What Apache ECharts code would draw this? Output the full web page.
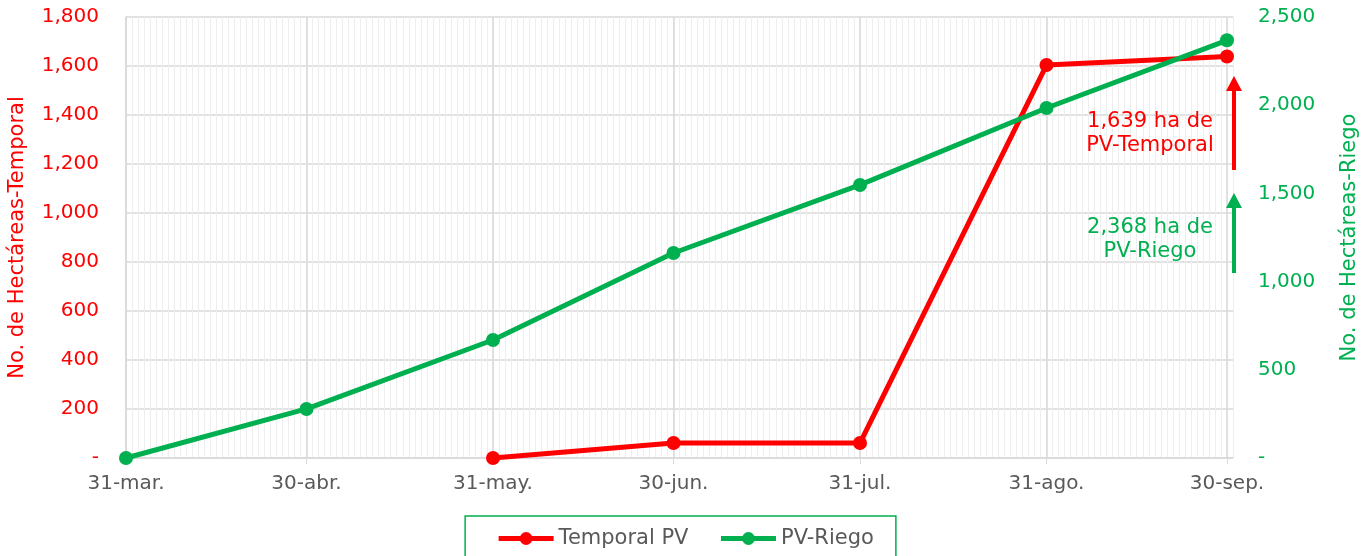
<!DOCTYPE html>
<html>
<head>
<meta charset="utf-8">
<script src="https://cdn.jsdelivr.net/npm/echarts@6/dist/echarts.min.js"></script>
<style>
  html, body { margin: 0; padding: 0; background: #fff; }
  #chart { width: 1370px; height: 556px; }
</style>
</head>
<body>
<div id="chart"></div>
<script>
// datos
const fechas = ["2024-03-31", "2024-04-30", "2024-05-31", "2024-06-30", "2024-07-31", "2024-08-31", "2024-09-30"];
const temporalPV = [null, null, 0, 61, 61, 1604, 1639];
const pvRiego = [0, 278, 669, 1162, 1548, 1984, 2368];
const meses = ["ene", "feb", "mar", "abr", "may", "jun", "jul", "ago", "sep", "oct", "nov", "dic"];
const fechaMin = "2024-03-31";
const fechaMax = "2024-10-01";

const ROJO = "#FF0000";
const VERDE = "#00B050";
const GRIS = "#595959";
const FONT = "DejaVu Sans";
const DIA = 86400000;

function aFecha(s) {
  const p = s.split("-").map(Number);
  return Date.UTC(p[0], p[1] - 1, p[2]);
}
// eje x en días desde la fecha inicial
const t0 = aFecha(fechaMin);
const dias = fechas.map(f => Math.round((aFecha(f) - t0) / DIA));
const diaMax = Math.round((aFecha(fechaMax) - t0) / DIA);

function etiquetaDia(v) {
  const d = new Date(t0 + v * DIA);
  return d.getUTCDate() + "-" + meses[d.getUTCMonth()] + ".";
}
function numFmt(v) {
  return v === 0 ? "-" : v.toLocaleString("en-US");
}

// flecha vertical como un solo polígono
function flecha(x, yBase, yPunta, color) {
  return {
    type: "polygon",
    z: 100,
    shape: {
      points: [
        [x - 2, yBase], [x - 2, yPunta + 15], [x - 8, yPunta + 15], [x, yPunta],
        [x + 8, yPunta + 15], [x + 2, yPunta + 15], [x + 2, yBase]
      ]
    },
    style: { fill: color, stroke: null, lineWidth: 0 }
  };
}

const chart = echarts.init(document.getElementById("chart"));
chart.setOption({
  animation: false,
  textStyle: { fontFamily: FONT },
  grid: { left: 126, right: 137, top: 17, bottom: 98, containLabel: false, outerBoundsMode: "none" },
  legend: {
    top: 516,
    left: "center",
    itemWidth: 55,
    itemHeight: 16,
    itemGap: 30,
    padding: [12, 22, 30, 31],
    borderColor: VERDE,
    borderWidth: 1.5,
    lineStyle: { width: 5 },
    textStyle: { color: GRIS, fontSize: 21, fontFamily: FONT },
    data: ["Temporal PV", "PV-Riego"]
  },
  xAxis: [
    {
      // eje auxiliar: líneas diarias
      type: "value",
      position: "bottom",
      min: 0,
      max: diaMax,
      interval: 1,
      axisLine: { show: false },
      axisTick: { show: false },
      axisLabel: { show: false },
      splitLine: { show: true, lineStyle: { color: "#EEEEEE", width: 1 } }
    },
    {
      type: "value",
      position: "bottom",
      min: 0,
      max: diaMax,
      axisLine: { show: true, lineStyle: { color: "#D9D9D9", width: 1.5 } },
      axisTick: { show: true, length: 6, lineStyle: { color: "#D9D9D9" }, customValues: dias },
      axisLabel: {
        customValues: dias,
        color: GRIS,
        fontSize: 20,
        margin: 16,
        formatter: etiquetaDia
      },
      splitLine: { show: true, lineStyle: { color: "#D9D9D9", width: 1.5 } }
    }
  ],
  yAxis: [
    {
      type: "value",
      min: 0,
      max: 1800,
      interval: 200,
      name: "No. de Hectáreas-Temporal",
      nameLocation: "middle",
      nameGap: 98,
      nameRotate: 90,
      nameTextStyle: { color: ROJO, fontSize: 21 },
      axisLine: { show: true, lineStyle: { color: "#D9D9D9", width: 1.5 } },
      axisTick: { show: false },
      axisLabel: { color: ROJO, fontSize: 20, margin: 27, formatter: numFmt },
      splitLine: { show: true, lineStyle: { color: "#D9D9D9", width: 1.5 } }
    },
    {
      type: "value",
      min: 0,
      max: 2500,
      interval: 500,
      position: "right",
      name: "No. de Hectáreas-Riego",
      nameLocation: "middle",
      nameGap: 106,
      nameRotate: 90,
      nameTextStyle: { color: VERDE, fontSize: 21 },
      axisLine: { show: false },
      axisTick: { show: false },
      axisLabel: { color: VERDE, fontSize: 20, margin: 25, formatter: numFmt },
      splitLine: { show: false }
    }
  ],
  series: [
    {
      name: "Temporal PV",
      type: "line",
      xAxisIndex: 1,
      yAxisIndex: 0,
      symbol: "circle",
      symbolSize: 14,
      color: ROJO,
      lineStyle: { width: 5, color: ROJO },
      data: dias.map((d, i) => [d, temporalPV[i]]),
      z: 3
    },
    {
      name: "PV-Riego",
      type: "line",
      xAxisIndex: 1,
      yAxisIndex: 1,
      symbol: "circle",
      symbolSize: 14,
      color: VERDE,
      lineStyle: { width: 5, color: VERDE },
      data: dias.map((d, i) => [d, pvRiego[i]]),
      z: 4
    }
  ],
  graphic: [
    {
      type: "text",
      x: 1150, y: 134,
      z: 100,
      style: {
        text: "1,639 ha de\nPV-Temporal",
        fill: ROJO, stroke: null, lineWidth: 0,
        fontSize: 21, fontFamily: FONT,
        align: "center", verticalAlign: "middle", lineHeight: 24
      }
    },
    {
      type: "text",
      x: 1150, y: 240,
      z: 100,
      style: {
        text: "2,368 ha de\nPV-Riego",
        fill: VERDE, stroke: null, lineWidth: 0,
        fontSize: 21, fontFamily: FONT,
        align: "center", verticalAlign: "middle", lineHeight: 24
      }
    },
    flecha(1234, 170, 76, ROJO),
    flecha(1234, 273, 193, VERDE)
  ]
});
</script>
</body>
</html>
